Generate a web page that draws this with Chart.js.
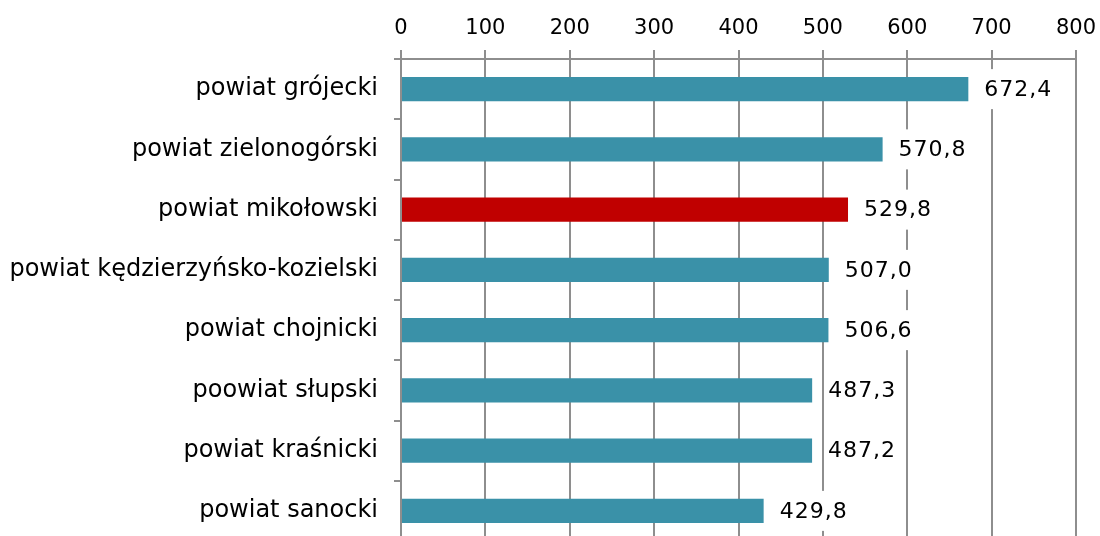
<!DOCTYPE html>
<html>
<head>
<meta charset="utf-8">
<script src="https://cdn.jsdelivr.net/npm/chart.js@4"></script>
<style>
    html, body { margin: 0; padding: 0; background: #fff; overflow: hidden; }
    #wrap { width: 1100px; height: 541px; }
</style>
</head>
<body>
<div id="wrap"><canvas id="chart"></canvas></div>
<script>
const categories = [
    'powiat grójecki',
    'powiat zielonogórski',
    'powiat mikołowski',
    'powiat kędzierzyńsko-kozielski',
    'powiat chojnicki',
    'poowiat słupski',
    'powiat kraśnicki',
    'powiat sanocki'
];
const values = [672.4, 570.8, 529.8, 507.0, 506.6, 487.3, 487.2, 429.8];
const highlight = 'powiat mikołowski';
const xTicks = [0, 100, 200, 300, 400, 500, 600, 700, 800];

const FONT = 'DejaVu Sans';
const teal = '#3a91a8';
const red = '#c00000';
const grid = '#8e8e8e';

const barLabels = {
    id: 'barLabels',
    afterDatasetsDraw(chart) {
        const ctx = chart.ctx;
        const meta = chart.getDatasetMeta(0);
        ctx.save();
        ctx.font = '22px "' + FONT + '"';
        ctx.letterSpacing = '1px';
        ctx.textBaseline = 'middle';
        meta.data.forEach(function (bar, i) {
            const txt = values[i].toFixed(1).replace('.', ',');
            const w = ctx.measureText(txt).width;
            const x = bar.x + 16;
            ctx.fillStyle = '#fff';
            ctx.fillRect(x - 3, bar.y - 20, w + 6, 40);
            ctx.fillStyle = '#000';
            ctx.fillText(txt, x, bar.y + 1);
        });
        ctx.restore();
    }
};

new Chart(document.getElementById('chart'), {
    type: 'bar',
    data: {
        labels: categories,
        datasets: [{
            data: values,
            backgroundColor: categories.map(c => c === highlight ? red : teal),
            borderWidth: 0,
            barPercentage: 0.8,
            categoryPercentage: 0.5
        }]
    },
    options: {
        indexAxis: 'y',
        responsive: true,
        maintainAspectRatio: false,
        animation: false,
        layout: { padding: { left: 0, right: 24, top: 0, bottom: 0 } },
        plugins: { legend: { display: false }, tooltip: { enabled: false } },
        scales: {
            x: {
                position: 'top',
                min: 0,
                max: 800,
                afterBuildTicks: function (s) { s.ticks = xTicks.map(v => ({ value: v })); },
                afterFit: function (s) { s.height = 59; s.paddingLeft = 0; s.paddingRight = 0; },
                grid: { color: grid, lineWidth: 2, tickLength: 9 },
                border: { color: grid, width: 2 },
                ticks: { color: '#000', font: { family: FONT, size: 21 }, padding: 9 }
            },
            y: {
                afterFit: function (s) { s.width = 401; s.paddingTop = 0; s.paddingBottom = 0; },
                grid: { color: grid, lineWidth: 2, drawOnChartArea: false, tickLength: 7 },
                border: { color: grid, width: 2 },
                ticks: { color: '#000', font: { family: FONT, size: 24 }, padding: 16 }
            }
        }
    },
    plugins: [barLabels]
});
</script>
</body>
</html>
